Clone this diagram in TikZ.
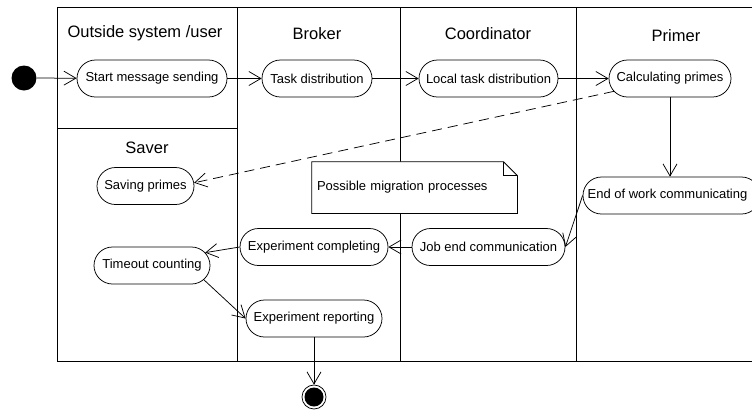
\documentclass[tikz,border=0pt]{standalone}
\usepackage{fontspec}
\setmainfont{Liberation Sans}
\usetikzlibrary{arrows.meta,calc}
\newcommand\actfont{\fontsize{13bp}{15bp}\selectfont}
\newcommand\lanefont{\fontsize{16.5bp}{19bp}\selectfont}
\begin{document}
\begin{tikzpicture}[x=1bp,y=-1bp, line width=0.75bp,
  act/.style={draw, fill=white, rounded corners=18.5bp, minimum height=37bp, inner sep=0pt, font=\actfont},
  lane/.style={font=\lanefont, inner sep=0pt, anchor=base},
  flow/.style={-{Straight Barb[length=12bp,width=14bp]}},
  dflow/.style={flow, dash pattern=on 10bp off 6bp},
  notebox/.style={inner xsep=5bp, inner ysep=0pt, text width=195bp, align=left, minimum height=51bp, font=\actfont}
]
\useasboundingbox (0,0) rectangle (752,409);

% swimlanes
\draw (57,7) -- (752,7);
\draw (57,361) -- (752,361);
\draw (57,7) -- (57,361);
\draw (237,7) -- (237,361);
\draw (400,7) -- (400,361);
\draw (576,7) -- (576,361);
\draw (57,128) -- (237,128);

% lane titles
\node[lane] (tOut) at (145,37) {Outside system /user};
\node[lane] (tBro) at (317,39) {Broker};
\node[lane] (tCoo) at (488,39) {Coordinator};
\node[lane] (tPri) at (676,41.5) {Primer};
\node[lane] (tSav) at (147,153) {Saver};

% start / end
\node[circle, fill=black, minimum size=25bp, inner sep=0pt] (init) at (24,78) {};
\node[circle, draw, fill=white, minimum size=24bp, inner sep=0pt] (final) at (314,397) {};
\fill (final.center) circle (9.5bp);

% activities
\node[act, minimum width=150bp] (start) at (152,78.5) {Start message sending};
\node[act, minimum width=110bp] (task) at (317,78.5) {Task distribution};
\node[act, minimum width=139bp] (local) at (488.5,78.5) {Local task distribution};
\node[act, minimum width=122bp] (calc) at (670,78.5) {Calculating primes};
\node[act, minimum width=177bp] (endw) at (671.5,195.5) {\hspace*{-8bp}End of work communicating};
\node[act, minimum width=97bp] (saving) at (145.5,186) {Saving primes};
\node[act, minimum width=116bp] (timeout) at (152,265.5) {Timeout counting};
\node[act, minimum width=148bp] (expc) at (314,247) {Experiment completing};
\node[act, minimum width=153bp] (jobend) at (488.5,247) {Job end communication};
\node[act, minimum width=136bp] (exprep) at (314,318.5) {Experiment reporting};

% note
\node[notebox] (note) at (414.5,187.5) {Possible migration processes};
\draw[fill=white] (note.north west) -- ($(note.north east)+(-14,0)$) -- ($(note.north east)+(0,14)$)
  -- (note.south east) -- (note.south west) -- cycle;
\draw ($(note.north east)+(-14,0)$) |- ($(note.north east)+(0,14)$);
\node[notebox] at (note.center) {Possible migration processes};

% flows
\draw[flow] (init) -- (start);
\draw[flow] (start) -- (task);
\draw[flow] (task) -- (local);
\draw[flow] (local) -- (calc);
\draw[dflow] ($(calc.west)+(18.5,0)+(136:18.5)$) -- ($(saving.east)+(-18.5,0)+(-10:18.5)$);
\draw[flow] (calc.south) -- (calc.south |- endw.north);
\draw[flow] (endw.west) -- (jobend.east);
\draw[flow] (jobend.west) -- (expc.east);
\draw[flow] (expc.west) -- ($(timeout.east)+(-18.5,0)+(-44:18.5)$);
\draw[flow] ($(timeout.east)+(-18.5,0)+(50:18.5)$) -- (exprep.west);
\draw[flow] (exprep.south) -- (final.north);
\end{tikzpicture}
\end{document}
